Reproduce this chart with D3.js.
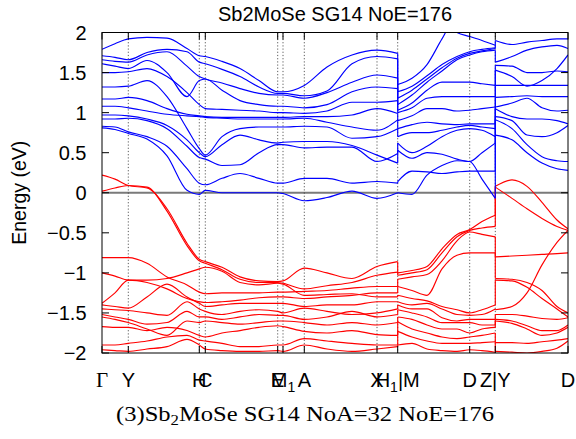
<!DOCTYPE html>
<html><head><meta charset="utf-8">
<script src="https://cdn.jsdelivr.net/npm/d3@7"></script>
<style>body{margin:0;background:#fff}svg{display:block}</style>
</head><body>
<svg id="c" width="576" height="439"></svg>
<script>
// ---- k-path (arbitrary distance units) ----
const kSeg1 = [0, 13, 26.3, 45, 65, 85, 97.3, 103.3, 120, 138, 157, 175.7, 181, 202.3, 225, 250, 275, 295.7];
const kSeg2 = [295.7, 310, 325, 340, 355, 367.7, 380, 393.3];
const kSeg3 = [393.3, 410, 425, 440, 455, 466];

const kLabelPos = [0, 26.3, 97.3, 103.3, 175.7, 181, 202.3, 275, 295.7, 367.7, 393.3, 466];
const kLabelText = ["Γ", "Y", "H", "C", "E", "M1", "A", "X", "H1|M", "D", "Z|Y", "D"];
const yTicks = [-2, -1.5, -1, -0.5, 0, 0.5, 1, 1.5, 2];

// ---- conduction bands (eV) ----
const condSeg1 = [
  [1.79, 1.86, 1.92, 1.94, 1.93, 1.80, 1.71, 1.70, 1.64, 1.55, 1.40, 1.26, 1.26, 1.34, 1.57, 1.72, 1.78, 1.74],
  [1.71, 1.69, 1.66, 1.75, 1.79, 1.76, 1.63, 1.61, 1.54, 1.45, 1.32, 1.24, 1.24, 1.21, 1.27, 1.61, 1.70, 1.67],
  [1.66, 1.64, 1.63, 1.72, 1.76, 1.58, 1.45, 1.42, 1.37, 1.30, 1.24, 1.22, 1.22, 1.18, 1.25, 1.38, 1.47, 1.43],
  [1.61, 1.58, 1.55, 1.65, 1.50, 1.20, 1.40, 1.42, 1.28, 1.15, 1.10, 1.08, 1.08, 1.06, 1.10, 1.26, 1.32, 1.30],
  [1.50, 1.50, 1.51, 1.55, 1.45, 1.25, 1.10, 1.05, 1.04, 1.03, 1.02, 1.00, 1.00, 0.99, 1.02, 1.13, 1.13, 1.15],
  [1.32, 1.32, 1.33, 1.40, 1.20, 0.80, 0.55, 0.47, 0.70, 0.80, 0.82, 0.82, 0.82, 0.83, 0.82, 0.68, 0.70, 0.80],
  [1.17, 1.17, 1.19, 1.15, 1.05, 0.98, 0.96, 0.95, 0.94, 0.94, 0.94, 0.94, 0.94, 0.95, 0.95, 0.97, 1.05, 0.99],
  [1.08, 1.08, 1.06, 1.02, 0.98, 0.96, 0.95, 0.94, 0.93, 0.92, 0.92, 0.92, 0.92, 0.93, 0.88, 0.82, 0.78, 0.91],
  [0.97, 0.97, 0.96, 0.92, 0.84, 0.66, 0.50, 0.45, 0.60, 0.72, 0.66, 0.62, 0.63, 0.64, 0.64, 0.59, 0.47, 0.37],
  [0.92, 0.92, 0.93, 0.90, 0.80, 0.58, 0.44, 0.42, 0.34, 0.35, 0.50, 0.60, 0.60, 0.56, 0.57, 0.57, 0.39, 0.49],
  [0.83, 0.82, 0.76, 0.70, 0.58, 0.30, 0.12, 0.10, 0.18, 0.24, 0.18, 0.12, 0.12, 0.18, 0.18, 0.12, 0.14, 0.12],
  [0.81, 0.79, 0.74, 0.67, 0.46, 0.03, -0.02, 0.03, 0.00, 0.00, 0.00, 0.00, -0.01, -0.10, -0.06, 0.02, -0.07, 0.00]
];
const condSeg2 = [
  [0.00, -0.02, 0.22, 0.34, 0.40, 0.39, 0.17, -0.07],
  [0.14, 0.27, 0.26, 0.24, 0.26, 0.27, 0.27, 0.27],
  [0.53, 0.43, 0.50, 0.48, 0.42, 0.39, 0.50, 0.62],
  [0.62, 0.50, 0.58, 0.70, 0.78, 0.80, 0.78, 0.70],
  [0.70, 0.75, 0.75, 0.78, 0.82, 0.84, 0.82, 0.80],
  [0.80, 0.85, 0.88, 0.86, 0.85, 0.86, 0.86, 0.86],
  [0.90, 0.96, 1.05, 1.05, 1.02, 1.03, 1.05, 1.07],
  [1.00, 1.06, 1.18, 1.20, 1.20, 1.20, 1.20, 1.20],
  [1.03, 1.12, 1.28, 1.38, 1.38, 1.38, 1.36, 1.34],
  [1.10, 1.22, 1.38, 1.52, 1.66, 1.72, 1.76, 1.78],
  [1.18, 1.28, 1.42, 1.56, 1.68, 1.74, 1.77, 1.80],
  [1.26, 1.33, 1.46, 1.60, 1.70, 1.76, 1.79, 1.81],
  [1.35, 1.43, 1.60, 1.92, 2.20, 2.20, 2.20, 2.20],
  [2.10, 2.15, 2.20, 2.15, 2.00, 1.95, 1.90, 1.84]
];
const condSeg3 = [
  [0.72, 0.66, 0.50, 0.37, 0.30, 0.28],
  [0.91, 0.80, 0.60, 0.45, 0.40, 0.39],
  [0.95, 0.90, 0.72, 0.70, 0.75, 0.84],
  [1.05, 0.95, 0.92, 0.92, 0.90, 0.86],
  [1.07, 1.12, 1.18, 1.06, 1.02, 1.03],
  [1.19, 1.20, 1.21, 1.20, 1.20, 1.20],
  [1.34, 1.34, 1.34, 1.34, 1.34, 1.34],
  [1.53, 1.45, 1.33, 1.40, 1.55, 1.72],
  [1.59, 1.58, 1.50, 1.50, 1.52, 1.51],
  [1.63, 1.70, 1.78, 1.82, 1.84, 1.80],
  [1.90, 1.85, 1.88, 1.90, 1.92, 1.92]
];

// ---- valence bands (eV) ----
const valSeg1 = [
  [0.22, 0.17, 0.09, 0.06, -0.20, -0.63, -0.83, -0.86, -0.93, -1.05, -1.10, -1.11, -1.10, -0.94, -1.00, -1.07, -0.92, -0.86],
  [0.02, 0.06, 0.09, 0.07, -0.23, -0.66, -0.85, -0.88, -0.96, -1.08, -1.12, -1.12, -1.13, -1.20, -1.16, -1.12, -1.03, -0.99],
  [-0.81, -0.81, -0.81, -0.88, -1.05, -1.15, -1.24, -1.26, -1.25, -1.25, -1.25, -1.24, -1.24, -1.23, -1.22, -1.19, -1.17, -1.17],
  [-1.00, -1.04, -1.09, -1.09, -1.07, -1.00, -0.95, -0.93, -0.98, -1.12, -1.15, -1.13, -1.14, -1.28, -1.27, -1.26, -1.30, -1.30],
  [-1.38, -1.25, -1.09, -1.12, -1.20, -1.32, -1.36, -1.37, -1.36, -1.34, -1.31, -1.30, -1.30, -1.32, -1.30, -1.28, -1.25, -1.25],
  [-1.40, -1.42, -1.44, -1.30, -1.14, -1.30, -1.38, -1.42, -1.40, -1.38, -1.38, -1.38, -1.38, -1.42, -1.40, -1.40, -1.36, -1.36],
  [-1.45, -1.46, -1.47, -1.50, -1.53, -1.36, -1.45, -1.48, -1.52, -1.48, -1.46, -1.48, -1.50, -1.44, -1.48, -1.52, -1.50, -1.45],
  [-1.52, -1.55, -1.58, -1.64, -1.62, -1.48, -1.55, -1.55, -1.58, -1.55, -1.52, -1.53, -1.53, -1.58, -1.55, -1.48, -1.55, -1.52],
  [-1.55, -1.58, -1.62, -1.70, -1.78, -1.60, -1.62, -1.60, -1.62, -1.64, -1.62, -1.60, -1.60, -1.62, -1.65, -1.62, -1.65, -1.62],
  [-1.67, -1.68, -1.68, -1.72, -1.68, -1.72, -1.78, -1.80, -1.75, -1.72, -1.68, -1.66, -1.67, -1.73, -1.75, -1.72, -1.77, -1.78],
  [-1.90, -1.90, -1.88, -1.85, -1.80, -1.78, -1.84, -1.85, -1.88, -1.92, -1.92, -1.90, -1.90, -1.82, -1.85, -1.88, -1.90, -1.90],
  [-1.96, -1.97, -1.98, -1.95, -1.92, -1.83, -1.90, -1.95, -1.97, -1.98, -1.98, -1.97, -1.98, -1.90, -1.95, -1.98, -1.95, -1.92]
];
const valSeg2 = [
  [-1.00, -0.97, -0.92, -0.70, -0.52, -0.46, -0.36, -0.28],
  [-1.03, -1.00, -0.96, -0.75, -0.55, -0.47, -0.44, -0.42],
  [-1.08, -1.05, -1.02, -0.85, -0.60, -0.49, -0.52, -0.55],
  [-1.17, -1.22, -1.28, -0.95, -0.78, -0.75, -0.75, -0.75],
  [-1.28, -1.32, -1.35, -1.42, -1.46, -1.50, -1.46, -1.40],
  [-1.36, -1.40, -1.38, -1.45, -1.52, -1.53, -1.52, -1.45],
  [-1.40, -1.45, -1.45, -1.56, -1.60, -1.58, -1.58, -1.58],
  [-1.46, -1.50, -1.55, -1.62, -1.62, -1.62, -1.65, -1.65],
  [-1.55, -1.58, -1.65, -1.70, -1.70, -1.75, -1.70, -1.68],
  [-1.61, -1.70, -1.75, -1.80, -1.82, -1.80, -1.78, -1.75],
  [-1.73, -1.80, -1.85, -1.88, -1.88, -1.88, -1.87, -1.86],
  [-1.90, -1.88, -1.95, -1.97, -1.98, -1.96, -1.97, -1.99]
];
const valSeg3 = [
  [0.08, 0.16, 0.08, -0.12, -0.34, -0.45],
  [0.07, -0.07, -0.20, -0.32, -0.42, -0.47],
  [-0.80, -0.79, -0.78, -0.77, -0.76, -0.75],
  [-1.07, -1.08, -1.12, -1.22, -1.42, -1.50],
  [-1.09, -1.10, -1.18, -1.32, -1.45, -1.55],
  [-1.46, -1.42, -1.25, -0.90, -0.62, -0.47],
  [-1.52, -1.52, -1.54, -1.57, -1.58, -1.56],
  [-1.58, -1.60, -1.66, -1.72, -1.72, -1.65],
  [-1.60, -1.63, -1.70, -1.78, -1.75, -1.68],
  [-1.87, -1.87, -1.88, -1.86, -1.84, -1.82],
  [-1.98, -1.99, -2.00, -1.98, -1.94, -1.85]
];

// ---- drawing ----
const svg = d3.select("#c");
const x = d3.scaleLinear().domain([0, 466]).range([102, 568]);
const y = d3.scaleLinear().domain([-2, 2]).range([353, 32.5]);
const [x0, x1] = x.range(), [yb, yt] = y.range();

svg.append("defs").append("clipPath").attr("id", "clip")
  .append("rect").attr("x", x0).attr("y", yt).attr("width", x1 - x0).attr("height", yb - yt);

const plot = svg.append("g").attr("clip-path", "url(#clip)");

// zero line
plot.append("line").attr("x1", x0).attr("x2", x1).attr("y1", y(0)).attr("y2", y(0))
  .attr("stroke", "#7a7a7a").attr("stroke-width", 1.8);

// vertical dotted lines at high-symmetry points
plot.selectAll("line.grid").data(kLabelPos.slice(1, -1)).join("line")
  .attr("class", "grid")
  .attr("x1", d => x(d)).attr("x2", d => x(d)).attr("y1", yt).attr("y2", yb)
  .attr("stroke", "#333").attr("stroke-width", 0.8).attr("stroke-dasharray", "1.2,2");

const line = d3.line().x(d => x(d[0])).y(d => y(d[1])).curve(d3.curveMonotoneX);

function drawSeg(bands, ks, color) {
  plot.append("g").selectAll("path").data(bands).join("path")
    .attr("d", b => line(b.map((e, i) => [ks[i], e])))
    .attr("fill", "none").attr("stroke", color).attr("stroke-width", 1.15);
}
function connect(endBands, startBands, k, color, fromBottom) {
  const a = endBands.map(b => b[b.length - 1]).sort(d3.ascending);
  const b = startBands.map(s => s[0]).sort(d3.ascending);
  if (!fromBottom) { a.reverse(); b.reverse(); }
  const n = Math.min(a.length, b.length);
  const pairs = d3.range(n).map(i => [a[i], b[i]]);
  plot.append("g").selectAll("line").data(pairs).join("line")
    .attr("x1", x(k)).attr("x2", x(k)).attr("y1", d => y(d[0])).attr("y2", d => y(d[1]))
    .attr("stroke", color).attr("stroke-width", 1.15);
}

const blue = "#0000ff", red = "#ff0000";
drawSeg(valSeg1, kSeg1, red); drawSeg(valSeg2, kSeg2, red); drawSeg(valSeg3, kSeg3, red);
connect(valSeg1, valSeg2, kSeg2[0], red, false);
connect(valSeg2, valSeg3, kSeg3[0], red, false);
drawSeg(condSeg1, kSeg1, blue); drawSeg(condSeg2, kSeg2, blue); drawSeg(condSeg3, kSeg3, blue);
connect(condSeg1, condSeg2, kSeg2[0], blue, true);
connect(condSeg2, condSeg3, kSeg3[0], blue, true);

// frame
svg.append("rect").attr("x", x0).attr("y", yt).attr("width", x1 - x0).attr("height", yb - yt)
  .attr("fill", "none").attr("stroke", "#000").attr("stroke-width", 1);

// y ticks (both sides, inward)
const tk = svg.append("g").attr("stroke", "#000").attr("stroke-width", 1);
yTicks.forEach(t => {
  tk.append("line").attr("x1", x0).attr("x2", x0 + 7).attr("y1", y(t)).attr("y2", y(t));
  tk.append("line").attr("x1", x1).attr("x2", x1 - 7).attr("y1", y(t)).attr("y2", y(t));
});
// x ticks (top and bottom, inward)
kLabelPos.forEach(k => {
  tk.append("line").attr("x1", x(k)).attr("x2", x(k)).attr("y1", yb).attr("y2", yb - 7);
  tk.append("line").attr("x1", x(k)).attr("x2", x(k)).attr("y1", yt).attr("y2", yt + 7);
});

const sans = "'Liberation Sans', Arial, Helvetica, sans-serif";
const serif = "'Liberation Serif', 'Times New Roman', serif";

svg.append("g").selectAll("text").data(yTicks).join("text")
  .attr("x", 86.5).attr("y", d => y(d) + 7.2)
  .attr("text-anchor", "end").attr("font-family", sans).attr("font-size", 20)
  .text(d => d3.format("")(d));

// x labels
const xl = svg.append("g").attr("font-family", sans).attr("font-size", 20).attr("text-anchor", "middle");
kLabelPos.forEach((k, i) => {
  const s = kLabelText[i];
  const t = xl.append("text").attr("x", x(k)).attr("y", 387);
  if (s === "Γ") { t.attr("font-family", serif).attr("font-size", 21).text(s); }
  else if (s === "M1" || s === "H1|M") {
    t.append("tspan").text(s[0]);
    t.append("tspan").attr("font-size", 14).attr("dy", 5).text("1");
    if (s.length > 2) t.append("tspan").attr("dy", -5).text(s.slice(2));
  } else t.text(s);
});

// y label
svg.append("text").attr("transform", `translate(26,${(yt + yb) / 2}) rotate(-90)`)
  .attr("text-anchor", "middle").attr("font-family", sans).attr("font-size", 19.5)
  .text("Energy (eV)");

// title
svg.append("text").attr("x", (x0 + x1) / 2).attr("y", 21).attr("text-anchor", "middle")
  .attr("font-family", sans).attr("font-size", 20).text("Sb2MoSe SG14 NoE=176");

// caption
const cap = svg.append("text").attr("x", 116).attr("y", 421)
  .attr("font-family", serif).attr("font-size", 22)
  .attr("textLength", 378).attr("lengthAdjust", "spacingAndGlyphs");
cap.append("tspan").text("(3)Sb");
cap.append("tspan").attr("font-size", 15).attr("dy", 4).text("2");
cap.append("tspan").attr("dy", -4).text("MoSe SG14 NoA=32 NoE=176");
</script>
</body></html>
